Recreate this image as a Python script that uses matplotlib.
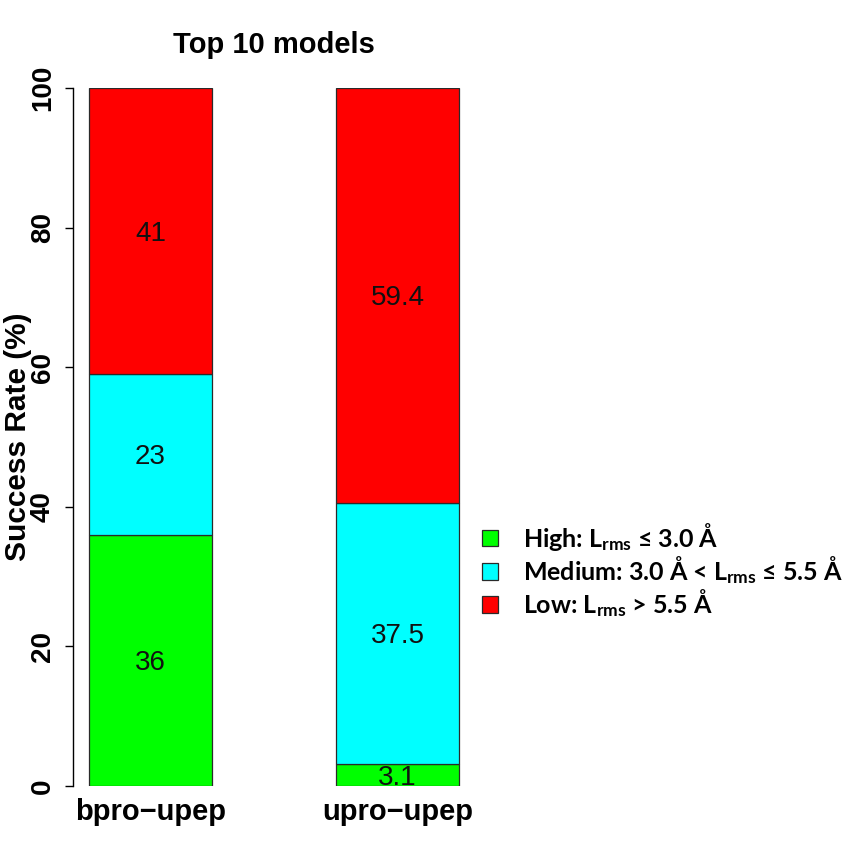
import matplotlib
matplotlib.use("Agg")
import matplotlib.pyplot as plt
from matplotlib.patches import Patch

# Data
groups = ["bpro\u2212upep", "upro\u2212upep"]
categories = ["High", "Medium", "Low"]
high = [36, 3.1]
medium = [23, 37.5]
low = [41, 59.4]
legend_labels = [
    "High: $\\mathrm{L}_{\\mathrm{rms}}$ \u2264 3.0 \u00c5",
    "Medium: 3.0 \u00c5 < $\\mathrm{L}_{\\mathrm{rms}}$ \u2264 5.5 \u00c5",
    "Low: $\\mathrm{L}_{\\mathrm{rms}}$ > 5.5 \u00c5",
]
yticks = [0, 20, 40, 60, 80, 100]

colors = ["#00ff00", "#00ffff", "#ff0000"]

plt.rcParams["font.family"] = ["Liberation Sans", "DejaVu Sans"]
plt.rcParams["mathtext.fontset"] = "custom"
plt.rcParams["mathtext.rm"] = "Lato:bold"
plt.rcParams["mathtext.it"] = "Lato:bold:italic"
plt.rcParams["mathtext.bf"] = "Lato:bold"

W, H = 866, 867
fig = plt.figure(figsize=(W / 100, H / 100), dpi=100, facecolor="white")
ax = fig.add_axes([74 / W, 1 - 786 / H, 400 / W, 698 / H])

xpos = [1.5, 3.5]
bottom = [0.0, 0.0]
for vals, col in zip([high, medium, low], colors):
    ax.bar(xpos, vals, width=1.0, bottom=bottom, color=col,
           edgecolor="#2a2a2a", linewidth=0.9, zorder=2)
    for x, b, v in zip(xpos, bottom, vals):
        ax.text(x, b + v / 2 - 0.4, f"{v:g}", ha="center", va="center",
                fontsize=20, color="#111111", zorder=3)
    bottom = [b + v for b, v in zip(bottom, vals)]

ax.set_xlim(0.88, 4.12)
ax.set_ylim(0, 100)
for s in ["top", "right", "bottom"]:
    ax.spines[s].set_visible(False)
ax.spines["left"].set_bounds(0, 100)
ax.spines["left"].set_position(("outward", 1))
ax.spines["left"].set_linewidth(1.0)

ax.set_yticks(yticks)
ax.set_yticklabels([str(t) for t in yticks], rotation=90, va="center",
                   fontsize=20, fontweight="bold")
ax.tick_params(axis="y", length=6, width=1.0, pad=6)
ax.set_xticks(xpos)
ax.set_xticklabels(groups, fontsize=21, fontweight="bold")
ax.tick_params(axis="x", length=0, pad=9)

ax.set_ylabel("Success Rate (%)", fontsize=21.5, fontweight="bold", va="center")
ax.yaxis.set_label_coords(-0.14, 0.5)

fig.text(274 / W, 1 - 45 / H, "Top 10 models", ha="center", va="center",
         fontsize=21, fontweight="bold")

handles = [Patch(facecolor=c, edgecolor="#2a2a2a", linewidth=0.9) for c in colors]
fig.legend(handles, legend_labels, loc="center left",
           bbox_to_anchor=(482 / W, 1 - 570 / H), frameon=False,
           prop={"family": ["Lato", "DejaVu Sans"], "weight": "bold", "size": 18},
           handlelength=0.65, handleheight=0.65, handletextpad=1.0,
           labelspacing=0.05, borderpad=0, borderaxespad=0)

fig.savefig("out.png", dpi=100, facecolor="white")
